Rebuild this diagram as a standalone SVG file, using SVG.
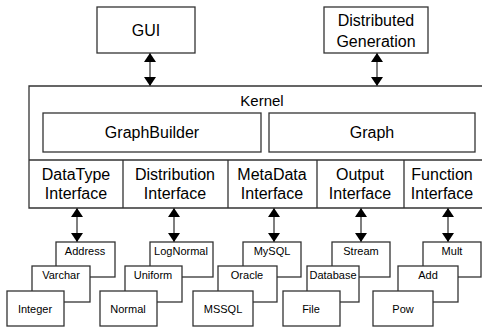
<svg xmlns="http://www.w3.org/2000/svg" width="482" height="328" viewBox="0 0 482 328">
  <style>
    .box { fill: #fff; stroke: #333; stroke-width: 1.3; }
    .line { stroke: #333; stroke-width: 1.3; fill: none; }
    .lbl { font-family: "Liberation Sans", Arial, sans-serif; font-size: 16px; fill: #000; text-anchor: middle; }
    .sm { font-family: "Liberation Sans", Arial, sans-serif; font-size: 11px; fill: #000; text-anchor: middle; }
    .conn { stroke: #555; stroke-width: 1.5; marker-start: url(#head); marker-end: url(#head); }
  </style>
  <defs>
    <marker id="head" viewBox="0 0 9 12" refX="9" refY="6" markerWidth="9" markerHeight="12" markerUnits="userSpaceOnUse" orient="auto-start-reverse">
      <path d="M0,0 L9,6 L0,12 Z" fill="#000"/>
    </marker>
  </defs>
  <rect width="482" height="328" fill="#fff"/>

  <g id="gui">
    <rect class="box" x="97" y="7" width="98" height="46"/>
    <text class="lbl" x="146" y="36">GUI</text>
  </g>

  <g id="distributed-generation">
    <rect class="box" x="324" y="7" width="104" height="46"/>
    <text class="lbl" x="376" y="26">Distributed</text>
    <text class="lbl" x="376" y="47">Generation</text>
  </g>

  <g id="kernel">
    <path class="line" d="M490,86 H29 V208 H490"/>
    <text class="lbl" x="262" y="106" style="font-size:15px">Kernel</text>
  </g>

  <g id="graphbuilder">
    <rect class="box" x="43" y="113" width="218" height="39"/>
    <text class="lbl" x="152" y="138">GraphBuilder</text>
  </g>

  <g id="graph">
    <rect class="box" x="269" y="113" width="206" height="39"/>
    <text class="lbl" x="372" y="138">Graph</text>
  </g>

  <g id="interfaces">
    <path class="line" d="M29,160 H490 M123,160 V208 M228,160 V208 M317,160 V208 M404,160 V208"/>
  </g>
  <g id="datatype-interface">
    <text class="lbl" x="76" y="180">DataType</text>
    <text class="lbl" x="76" y="199">Interface</text>
  </g>
  <g id="distribution-interface">
    <text class="lbl" x="175" y="180">Distribution</text>
    <text class="lbl" x="175" y="199">Interface</text>
  </g>
  <g id="metadata-interface">
    <text class="lbl" x="272" y="180">MetaData</text>
    <text class="lbl" x="272" y="199">Interface</text>
  </g>
  <g id="output-interface">
    <text class="lbl" x="360" y="180">Output</text>
    <text class="lbl" x="360" y="199">Interface</text>
  </g>
  <g id="function-interface">
    <text class="lbl" x="442" y="180">Function</text>
    <text class="lbl" x="442" y="199">Interface</text>
  </g>

  <g id="connectors">
    <line class="conn" x1="150" y1="53" x2="150" y2="86"/>
    <line class="conn" x1="377" y1="53" x2="377" y2="86"/>
    <line class="conn" x1="77" y1="208" x2="77" y2="242"/>
    <line class="conn" x1="174" y1="208" x2="174" y2="242"/>
    <line class="conn" x1="274" y1="208" x2="274" y2="242"/>
    <line class="conn" x1="361" y1="208" x2="361" y2="242"/>
    <line class="conn" x1="448" y1="208" x2="448" y2="242"/>
  </g>

  <!-- DataType implementations -->
  <g id="address">
    <rect class="box" x="56" y="242" width="59" height="35"/>
    <text class="sm" x="85" y="255">Address</text>
  </g>
  <g id="varchar">
    <rect class="box" x="32" y="266" width="58" height="36"/>
    <text class="sm" x="61" y="279">Varchar</text>
  </g>
  <g id="integer">
    <rect class="box" x="7" y="291" width="57" height="35"/>
    <text class="sm" x="35" y="313">Integer</text>
  </g>

  <!-- Distribution implementations -->
  <g id="lognormal">
    <rect class="box" x="150" y="242" width="63" height="35"/>
    <text class="sm" x="181" y="255">LogNormal</text>
  </g>
  <g id="uniform">
    <rect class="box" x="125" y="266" width="57" height="36"/>
    <text class="sm" x="153" y="279">Uniform</text>
  </g>
  <g id="normal">
    <rect class="box" x="100" y="291" width="57" height="35"/>
    <text class="sm" x="128" y="313">Normal</text>
  </g>

  <!-- MetaData implementations -->
  <g id="mysql">
    <rect class="box" x="243" y="242" width="58" height="35"/>
    <text class="sm" x="272" y="255">MySQL</text>
  </g>
  <g id="oracle">
    <rect class="box" x="218" y="266" width="59" height="36"/>
    <text class="sm" x="247" y="279">Oracle</text>
  </g>
  <g id="mssql">
    <rect class="box" x="193" y="291" width="60" height="35"/>
    <text class="sm" x="223" y="313">MSSQL</text>
  </g>

  <!-- Output implementations -->
  <g id="stream">
    <rect class="box" x="332" y="242" width="58" height="35"/>
    <text class="sm" x="361" y="255">Stream</text>
  </g>
  <g id="database">
    <rect class="box" x="307" y="266" width="52" height="36"/>
    <text class="sm" x="333" y="279">Database</text>
  </g>
  <g id="file">
    <rect class="box" x="283" y="291" width="57" height="35"/>
    <text class="sm" x="311" y="313">File</text>
  </g>

  <!-- Function implementations -->
  <g id="mult">
    <rect class="box" x="423" y="242" width="58" height="35"/>
    <text class="sm" x="452" y="255">Mult</text>
  </g>
  <g id="add">
    <rect class="box" x="398" y="266" width="60" height="36"/>
    <text class="sm" x="428" y="279">Add</text>
  </g>
  <g id="pow">
    <rect class="box" x="373" y="291" width="60" height="35"/>
    <text class="sm" x="403" y="313">Pow</text>
  </g>
</svg>
